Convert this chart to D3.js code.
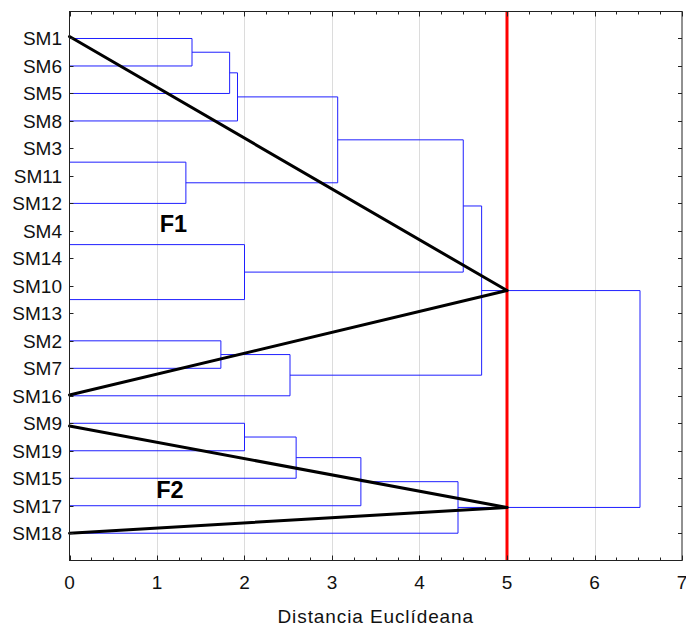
<!DOCTYPE html>
<html><head><meta charset="utf-8">
<script src="https://cdn.jsdelivr.net/npm/d3@7"></script>
<style>body{margin:0;background:#fff}svg{display:block}text{font-family:"Liberation Sans",Arial,sans-serif}</style>
</head><body>
<svg id="c" width="686" height="627"></svg>
<script>
// Leaf order (top to bottom)
const leaves = ["SM1","SM6","SM5","SM8","SM3","SM11","SM12","SM4","SM14","SM10","SM13","SM2","SM7","SM16","SM9","SM19","SM15","SM17","SM18"];
// Merges: id, left child, right child, linkage distance
const mergeIds    = ["A","B","C","D","E","F","G","H","I","J","K","L","M","N","O","P","Q","R"];
const mergeLeft   = ["SM1","A","B","SM3","D","C","SM4","SM10","G","F","SM2","K","J","SM9","N","O","P","M"];
const mergeRight  = ["SM6","SM5","SM8","SM11","SM12","E","SM14","SM13","H","I","SM7","SM16","L","SM19","SM15","SM17","SM18","Q"];
const mergeHeight = [1.40,1.83,1.92,0,1.33,3.065,0,0,2.0,4.50,1.73,2.52,4.71,2.0,2.59,3.33,4.44,6.52];
const xTicks = [0,1,2,3,4,5,6,7];
const cutValue = 5;
// Group annotation lines: start (distance 0, row index) -> end at cluster node at cut
const groupStartRow = [-0.07, 12.97, 14.1, 18.0];
const groupEndNode  = ["M","M","Q","Q"];
const groupLabels = [{t:"F1",x:1.03,row:7.05},{t:"F2",x:0.99,row:16.73}];
const xTitle = "Distancia Euclídeana";

const svg = d3.select("#c");
const x = d3.scaleLinear().domain([0,7]).range([69.5,682]);
const y = d3.scaleLinear().domain([-1,19]).range([11,560.7]);

// node positions
const pos = {};
leaves.forEach((l,i)=>pos[l]={h:0,r:i});
mergeIds.forEach((id,i)=>{
  const a=pos[mergeLeft[i]], b=pos[mergeRight[i]];
  pos[id]={h:mergeHeight[i], r:(a.r+b.r)/2};
});

// grid
svg.append("g").selectAll("line").data(xTicks.filter(t=>t>0&&t<7)).join("line")
  .attr("x1",d=>Math.round(x(d))+0.5).attr("x2",d=>Math.round(x(d))+0.5)
  .attr("y1",y(-1)).attr("y2",y(19)).attr("stroke","#dcdcdc").attr("stroke-width",1);

// dendrogram
const gd = svg.append("g").attr("fill","none").attr("stroke","#1f1fff").attr("stroke-width",1);
mergeIds.forEach((id,i)=>{
  const a=pos[mergeLeft[i]], b=pos[mergeRight[i]], m=pos[id];
  const xm=x(m.h);
  const p = d3.path();
  p.moveTo(x(a.h), y(a.r)); p.lineTo(xm, y(a.r)); p.lineTo(xm, y(b.r)); p.lineTo(x(b.h), y(b.r));
  gd.append("path").attr("d",p.toString());
});

// cut line
svg.append("line").attr("x1",x(cutValue)).attr("x2",x(cutValue)).attr("y1",y(-1)).attr("y2",y(19))
  .attr("stroke","#ff0000").attr("stroke-width",3);

// group annotation lines
svg.append("g").selectAll("line").data(groupStartRow).join("line")
  .attr("x1",x(0)).attr("y1",d=>y(d))
  .attr("x2",x(cutValue)).attr("y2",(d,i)=>y(pos[groupEndNode[i]].r))
  .attr("stroke","#000").attr("stroke-width",3).attr("stroke-linecap","round");

svg.append("g").selectAll("text").data(groupLabels).join("text")
  .attr("x",d=>x(d.x)).attr("y",d=>y(d.row)).attr("font-size",23.5).attr("font-weight","bold")
  .attr("fill","#000").text(d=>d.t);

// frame
svg.append("rect").attr("x",69.5).attr("y",11.5).attr("width",x(7)-69.5).attr("height",560.5-11.5)
  .attr("fill","none").attr("stroke","#222").attr("stroke-width",1);

// x ticks (top & bottom, minor each 0.25)
const minor = d3.range(0,7.001,0.25);
const gt = svg.append("g").attr("stroke","#222").attr("stroke-width",1);
minor.forEach(t=>{
  const xx=Math.round(x(t))+0.5, len = Number.isInteger(t)?5:3;
  gt.append("line").attr("x1",xx).attr("x2",xx).attr("y1",11.5).attr("y2",11.5+len);
  gt.append("line").attr("x1",xx).attr("x2",xx).attr("y1",560.5).attr("y2",560.5-len);
});
// y ticks left & right
leaves.forEach((l,i)=>{
  const yy=Math.round(y(i))+0.5;
  gt.append("line").attr("x1",69.5).attr("x2",73.5).attr("y1",yy).attr("y2",yy);
  gt.append("line").attr("x1",x(7)).attr("x2",x(7)-4).attr("y1",yy).attr("y2",yy);
});

// y labels
svg.append("g").selectAll("text").data(leaves).join("text")
  .attr("x",62).attr("y",(d,i)=>y(i)+6.8).attr("text-anchor","end").attr("font-size",19)
  .attr("fill","#111").text(d=>d);

// x labels
svg.append("g").selectAll("text").data(xTicks).join("text")
  .attr("x",d=>x(d)).attr("y",589).attr("text-anchor","middle").attr("font-size",19)
  .attr("fill","#111").text(d=>d);

svg.append("text").attr("x",(x(0)+x(7))/2).attr("y",623).attr("text-anchor","middle")
  .attr("font-size",19).attr("letter-spacing","0.9px").attr("fill","#111").text(xTitle);
</script>
</body></html>
